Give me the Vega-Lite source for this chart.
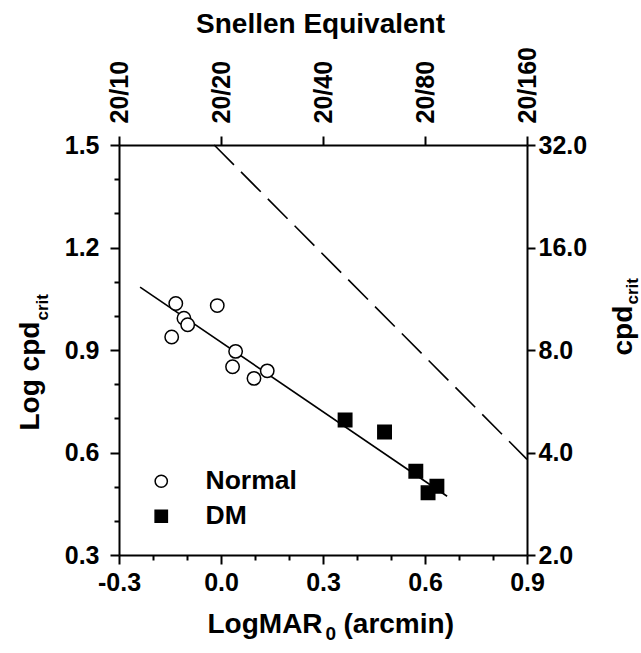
{
  "$schema": "https://vega.github.io/schema/vega-lite/v6.json",
  "width": 408,
  "height": 410,
  "autosize": {"type": "none"},
  "padding": {"left": 119, "top": 145, "right": 114, "bottom": 98},
  "background": "white",
  "config": {
    "view": {"stroke": null},
    "font": "Liberation Sans",
    "axis": {
      "grid": false,
      "domainColor": "black",
      "domainWidth": 2,
      "tickColor": "black",
      "tickWidth": 2,
      "labelColor": "black",
      "titleColor": "black",
      "labelFont": "Liberation Sans",
      "labelFontWeight": "bold",
      "labelFontSize": 25,
      "titleFont": "Liberation Sans",
      "titleFontWeight": "bold",
      "titleFontSize": 28,
      "labelOverlap": false,
      "labelFlush": false
    },
    "legend": {
      "orient": "none",
      "title": null,
      "labelFontSize": 26.5,
      "labelFont": "Liberation Sans",
      "labelFontWeight": "bold",
      "labelColor": "black",
      "symbolSize": 150,
      "rowPadding": 8,
      "labelOffset": 31
    }
  },
  "datasets": {
    "points": [
      {"group": "Normal", "logmar": -0.133, "logcpd": 1.036},
      {"group": "Normal", "logmar": -0.011, "logcpd": 1.03},
      {"group": "Normal", "logmar": -0.109, "logcpd": 0.993},
      {"group": "Normal", "logmar": -0.098, "logcpd": 0.974},
      {"group": "Normal", "logmar": -0.145, "logcpd": 0.938},
      {"group": "Normal", "logmar": 0.043, "logcpd": 0.896},
      {"group": "Normal", "logmar": 0.034, "logcpd": 0.851},
      {"group": "Normal", "logmar": 0.136, "logcpd": 0.839},
      {"group": "Normal", "logmar": 0.097, "logcpd": 0.817},
      {"group": "DM", "logmar": 0.365, "logcpd": 0.695},
      {"group": "DM", "logmar": 0.481, "logcpd": 0.66},
      {"group": "DM", "logmar": 0.573, "logcpd": 0.545},
      {"group": "DM", "logmar": 0.635, "logcpd": 0.501},
      {"group": "DM", "logmar": 0.609, "logcpd": 0.482}
    ],
    "lines": [
      {"series": "fit", "logmar": -0.238, "logcpd": 1.084},
      {"series": "fit", "logmar": 0.665, "logcpd": 0.472},
      {"series": "ideal", "logmar": -0.02, "logcpd": 1.5},
      {"series": "ideal", "logmar": 0.9, "logcpd": 0.58}
    ]
  },
  "layer": [
    {
      "data": {"name": "lines"},
      "transform": [{"filter": "datum.series === 'fit'"}],
      "mark": {"type": "line", "color": "black", "strokeWidth": 1.6},
      "encoding": {
        "x": {"field": "logmar", "type": "quantitative",
          "scale": {"domain": [-0.3, 0.9], "nice": false, "zero": false},
          "axis": {"orient": "bottom", "domain": false, "ticks": false, "labels": false, "title": "0", "titleFontSize": 19, "titleAlign": "left", "titleBaseline": "alphabetic", "titleX": 206, "titleY": 84}},
        "y": {"field": "logcpd", "type": "quantitative",
          "scale": {"domain": [0.3, 1.5], "nice": false, "zero": false},
          "axis": {"orient": "left", "domain": false, "ticks": false, "labels": false, "title": "crit", "titleFontSize": 17, "titleAngle": 270, "titleAlign": "left", "titleBaseline": "alphabetic", "titleX": -72, "titleY": 175}}
      }
    },
    {
      "data": {"name": "lines"},
      "transform": [{"filter": "datum.series === 'ideal'"}],
      "mark": {"type": "line", "color": "black", "strokeWidth": 1.6, "strokeDash": [28, 10]},
      "encoding": {
        "x": {"field": "logmar", "type": "quantitative",
          "scale": {"domain": [-0.3, 0.9], "nice": false, "zero": false},
          "axis": {"orient": "bottom", "domain": false, "ticks": false, "labels": false, "title": "(arcmin)", "titleAlign": "left", "titleBaseline": "alphabetic", "titleX": 224, "titleY": 77}},
        "y": {"field": "logcpd", "type": "quantitative",
          "scale": {"domain": [0.3, 1.5], "nice": false, "zero": false},
          "axis": {"orient": "right", "domain": false, "ticks": false, "labels": false, "title": "crit", "titleFontSize": 17, "titleAngle": 270, "titleAlign": "left", "titleBaseline": "alphabetic", "titleX": 110, "titleY": 159}}
      }
    },
    {
      "data": {"name": "points"},
      "transform": [{"filter": "datum.group === 'Normal'"}],
      "mark": {"type": "point", "filled": true, "stroke": "black", "strokeWidth": 1.5, "size": 180, "opacity": 1},
      "encoding": {
        "x": {"field": "logmar", "type": "quantitative",
          "scale": {"domain": [-0.3, 0.9], "nice": false, "zero": false},
          "axis": {"orient": "bottom",
            "values": [-0.3, -0.2, -0.1, 0, 0.1, 0.2, 0.3, 0.4, 0.5, 0.6, 0.7, 0.8, 0.9],
            "labelExpr": "round(datum.value*10) % 3 === 0 ? replace(format(datum.value, '.1f'), '\u2212', '-') : ''",
            "tickSize": {"condition": {"test": "round(datum.value*10) % 3 === 0", "value": 9}, "value": 5},
            "labelPadding": 6,
            "title": "LogMAR", "titleAlign": "left", "titleBaseline": "alphabetic", "titleX": 88, "titleY": 77}},
        "y": {"field": "logcpd", "type": "quantitative",
          "scale": {"domain": [0.3, 1.5], "nice": false, "zero": false},
          "axis": {"orient": "left",
            "values": [0.3, 0.4, 0.5, 0.6, 0.7, 0.8, 0.9, 1.0, 1.1, 1.2, 1.3, 1.4, 1.5],
            "labelExpr": "round(datum.value*10) % 3 === 0 ? format(datum.value, '.1f') : ''",
            "tickSize": {"condition": {"test": "round(datum.value*10) % 3 === 0", "value": 9}, "value": 5},
            "labelPadding": 11,
            "title": "Log cpd", "titleAngle": 270, "titleAlign": "left", "titleBaseline": "alphabetic", "titleX": -81, "titleY": 285}},
        "shape": {"field": "group", "type": "nominal",
          "scale": {"domain": ["Normal", "DM"], "range": ["circle", "square"]},
          "legend": {"orient": "none", "legendX": 29, "legendY": 323,
            "encode": {"symbols": {"update": {"stroke": {"value": "black"}, "strokeWidth": {"value": 1.5}}}}}},
        "fill": {"field": "group", "type": "nominal",
          "scale": {"domain": ["Normal", "DM"], "range": ["white", "black"]},
          "legend": {"orient": "none", "legendX": 29, "legendY": 323,
            "encode": {"symbols": {"update": {"stroke": {"value": "black"}, "strokeWidth": {"value": 1.5}}}}}}
      }
    },
    {
      "data": {"name": "points"},
      "transform": [{"filter": "datum.group === 'DM'"}],
      "mark": {"type": "point", "filled": true, "stroke": "black", "strokeWidth": 1.5, "size": 180, "opacity": 1},
      "encoding": {
        "x": {"field": "logmar", "type": "quantitative",
          "scale": {"domain": [-0.3, 0.9], "nice": false, "zero": false},
          "axis": {"orient": "top",
            "values": [-0.3, 0, 0.3, 0.6, 0.9],
            "labelExpr": "'20/' + (10 * pow(2, round(datum.value / 0.3) + 1))",
            "labelAngle": 270, "labelAlign": "left", "labelBaseline": "middle",
            "tickSize": 9, "labelPadding": 13,
            "title": "Snellen Equivalent", "titleAlign": "center", "titleBaseline": "alphabetic", "titleX": 201, "titleY": -113}},
        "y": {"field": "logcpd", "type": "quantitative",
          "scale": {"domain": [0.3, 1.5], "nice": false, "zero": false},
          "axis": {"orient": "right",
            "values": [0.3, 0.6, 0.9, 1.2, 1.5],
            "labelExpr": "format(pow(2, round(datum.value / 0.3)), '.1f')",
            "tickSize": 8, "labelPadding": 3,
            "title": "cpd", "titleAngle": 270, "titleAlign": "left", "titleBaseline": "alphabetic", "titleX": 104, "titleY": 210}},
        "shape": {"field": "group", "type": "nominal",
          "scale": {"domain": ["Normal", "DM"], "range": ["circle", "square"]},
          "legend": {"orient": "none", "legendX": 29, "legendY": 323,
            "encode": {"symbols": {"update": {"stroke": {"value": "black"}, "strokeWidth": {"value": 1.5}}}}}},
        "fill": {"field": "group", "type": "nominal",
          "scale": {"domain": ["Normal", "DM"], "range": ["white", "black"]},
          "legend": {"orient": "none", "legendX": 29, "legendY": 323,
            "encode": {"symbols": {"update": {"stroke": {"value": "black"}, "strokeWidth": {"value": 1.5}}}}}}
      }
    }
  ],
  "resolve": {"axis": {"x": "independent", "y": "independent"}}
}
